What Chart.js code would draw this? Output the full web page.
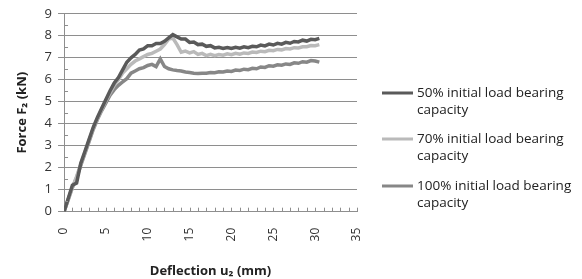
<!DOCTYPE html>
<html>
<head>
<meta charset="utf-8">
<script src="https://cdn.jsdelivr.net/npm/chart.js@4"></script>
<style>
  html, body { margin: 0; padding: 0; background: #fff; }
  #wrap { width: 582px; height: 279px; }
</style>
</head>
<body>
<div id="wrap"><canvas id="c" width="582" height="279"></canvas></div>
<script>
// Deflection u2 (mm)
const deflection = [0,0.5,1,1.5,2,2.5,3,3.5,4,4.5,5,5.5,6,6.5,7,7.5,8,8.5,9,9.5,10,10.5,11,11.5,12,12.5,13,13.5,14,14.5,15,15.5,16,16.5,17,17.5,18,18.5,19,19.5,20,20.5,21,21.5,22,22.5,23,23.5,24,24.5,25,25.5,26,26.5,27,27.5,28,28.5,29,29.5,30,30.5];
// Force F2 (kN)
const force50 = [0,0.6,1.2,1.3,2.2,2.75,3.3,3.85,4.3,4.7,5.1,5.5,5.85,6.1,6.45,6.8,7.0,7.15,7.35,7.4,7.55,7.55,7.65,7.65,7.75,7.9,8.05,7.95,7.85,7.85,7.7,7.72,7.6,7.62,7.52,7.55,7.45,7.48,7.42,7.47,7.42,7.48,7.44,7.5,7.46,7.52,7.5,7.58,7.54,7.62,7.58,7.66,7.62,7.7,7.66,7.74,7.72,7.8,7.76,7.84,7.82,7.88];
const force70 = [0,0.55,1.1,1.6,2.15,2.7,3.25,3.8,4.25,4.65,5.05,5.4,5.75,6.0,6.3,6.5,6.7,6.85,6.95,7.05,7.15,7.2,7.3,7.4,7.6,7.85,7.9,7.6,7.25,7.3,7.22,7.28,7.15,7.2,7.1,7.16,7.1,7.15,7.12,7.18,7.14,7.2,7.16,7.22,7.2,7.26,7.24,7.3,7.28,7.34,7.32,7.38,7.36,7.42,7.4,7.46,7.45,7.5,7.5,7.56,7.55,7.6];
const force100 = [0,0.55,1.1,1.55,2.1,2.65,3.2,3.75,4.2,4.6,4.95,5.3,5.55,5.75,5.9,6.05,6.3,6.4,6.5,6.55,6.65,6.7,6.6,6.95,6.6,6.5,6.45,6.42,6.4,6.35,6.33,6.3,6.28,6.3,6.3,6.33,6.32,6.36,6.35,6.4,6.38,6.44,6.42,6.48,6.46,6.52,6.5,6.58,6.56,6.64,6.62,6.68,6.66,6.72,6.7,6.77,6.75,6.82,6.8,6.87,6.85,6.8];

const seriesLabels = [
  ["50% initial load bearing", "capacity"],
  ["70% initial load bearing", "capacity"],
  ["100% initial load bearing", "capacity"]
];
const seriesColors = ["#5a5a5a", "#bababa", "#878787"];
const xTickValues = [0,5,10,15,20,25,30,35];
const yTickValues = [0,1,2,3,4,5,6,7,8,9];

const toPts = (ys) => ys.map((y, i) => ({x: deflection[i], y}));

const minorTicks = {
  id: 'minorTicks',
  afterDatasetsDraw(chart) {
    const {ctx, scales: {x, y}} = chart;
    ctx.save();
    ctx.strokeStyle = '#8e8e8e';
    ctx.lineWidth = 1;
    ctx.beginPath();
    for (let v = 1; v <= 35; v++) {
      const px = Math.round(x.getPixelForValue(v)) + 0.5;
      ctx.moveTo(px, y.bottom);
      ctx.lineTo(px, y.bottom - 4);
    }
    for (let v = 0.5; v < 9; v += 1) {
      const py = Math.round(y.getPixelForValue(v)) + 0.5;
      ctx.moveTo(x.left, py);
      ctx.lineTo(x.left + 4, py);
    }
    ctx.stroke();
    ctx.restore();
  }
};

// legend drawn beside the plot, from the datasets' own labels and colours
const sideLegend = {
  id: 'sideLegend',
  afterDraw(chart) {
    const {ctx} = chart;
    const x0 = 382, lineLen = 31, textX = 417;
    const firstY = [93, 139, 186];
    const lineGap = 17;
    ctx.save();
    ctx.font = '13.5px "Open Sans"';
    ctx.textBaseline = 'middle';
    ctx.textAlign = 'left';
    chart.data.datasets.forEach((ds, i) => {
      const yy = firstY[i];
      ctx.fillStyle = ds.borderColor;
      ctx.fillRect(x0, yy - 1.5, lineLen, 3);
      ctx.fillStyle = '#222';
      ds.label.forEach((t, j) => ctx.fillText(t, textX, yy + j * lineGap));
    });
    ctx.restore();
  }
};

new Chart(document.getElementById('c'), {
  type: 'line',
  data: {
    datasets: [
      {label: seriesLabels[0], data: toPts(force50), borderColor: seriesColors[0], backgroundColor: seriesColors[0]},
      {label: seriesLabels[1], data: toPts(force70), borderColor: seriesColors[1], backgroundColor: seriesColors[1]},
      {label: seriesLabels[2], data: toPts(force100), borderColor: seriesColors[2], backgroundColor: seriesColors[2]}
    ]
  },
  options: {
    responsive: false,
    animation: false,
    devicePixelRatio: 1,
    elements: {
      point: {radius: 0},
      line: {borderWidth: 3.5, tension: 0}
    },
    layout: {padding: {left: 14, right: 225, top: 10, bottom: 0}},
    plugins: {
      tooltip: {enabled: false},
      legend: {display: false}
    },
    scales: {
      x: {
        type: 'linear',
        min: 0, max: 35,
        afterBuildTicks(axis) { axis.ticks = xTickValues.map(v => ({value: v})); },
        ticks: {
          minRotation: 90, maxRotation: 90,
          padding: 16,
          color: '#333',
          font: {family: 'Open Sans', size: 12}
        },
        grid: {display: true, drawOnChartArea: false, drawTicks: false},
        border: {display: true, color: '#8e8e8e', width: 1},
        title: {
          display: true,
          text: 'Deflection u\u2082 (mm)',
          color: '#222',
          font: {family: 'Open Sans', size: 13, weight: 'bold'},
          padding: {top: 6, bottom: 0}
        }
      },
      y: {
        min: 0, max: 9,
        afterBuildTicks(axis) { axis.ticks = yTickValues.map(v => ({value: v})); },
        ticks: {
          padding: 6,
          color: '#333',
          font: {family: 'Open Sans', size: 13}
        },
        grid: {color: '#8e8e8e', lineWidth: 1, drawTicks: true, tickLength: 6, tickColor: '#8e8e8e'},
        border: {display: true, color: '#8e8e8e', width: 1},
        title: {
          display: true,
          text: 'Force F\u2082 (kN)',
          color: '#222',
          font: {family: 'Open Sans', size: 13, weight: 'bold'},
          padding: {top: 0, bottom: 9}
        }
      }
    }
  },
  plugins: [minorTicks, sideLegend]
});
</script>
</body>
</html>
